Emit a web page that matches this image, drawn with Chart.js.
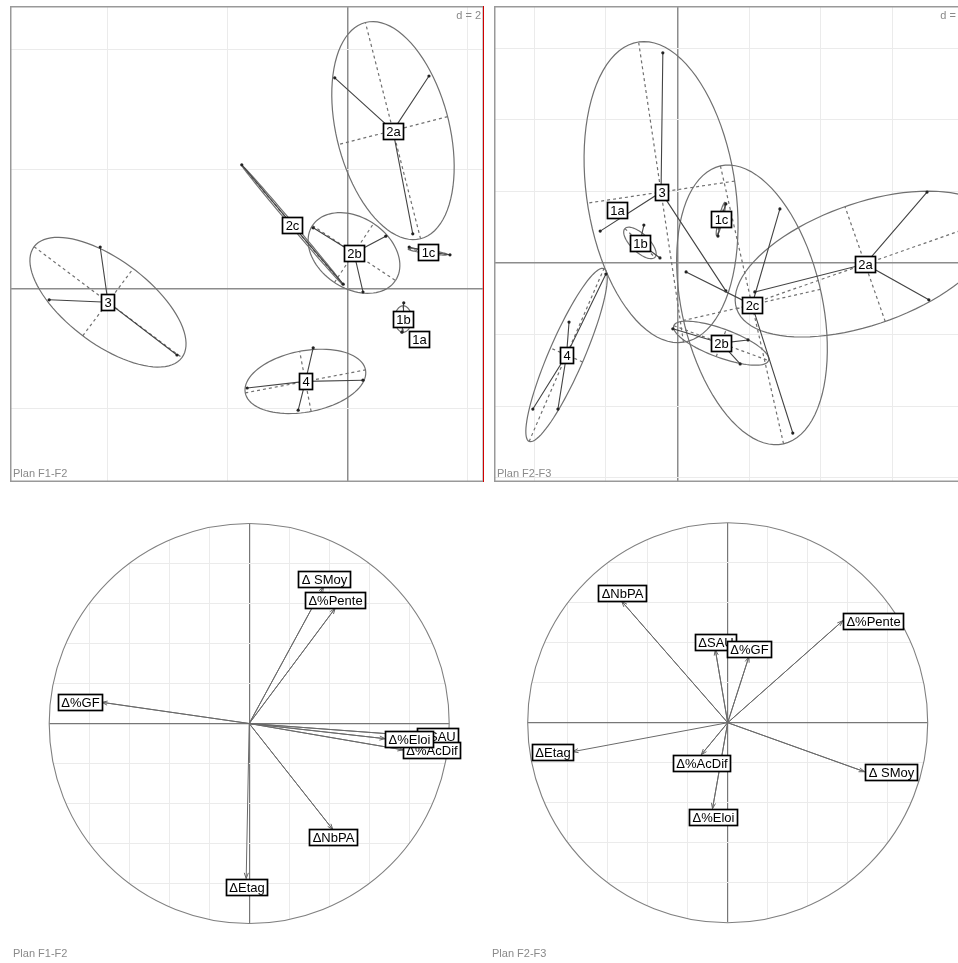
<!DOCTYPE html>
<html>
<head>
<meta charset="utf-8">
<script src="https://cdn.jsdelivr.net/npm/chart.js@4.4.1/dist/chart.umd.min.js"></script>
<style>
    html, body { margin: 0; padding: 0; background: #fff; overflow: hidden; width: 958px; height: 963px; }
    .panel { position: absolute; }
    .panel canvas { display: block; }
    .plan { position: absolute; font: 11px "Liberation Sans", Arial, sans-serif; color: #8a8a8a; }
</style>
</head>
<body>
<div class="panel" style="left:10px;top:6px"><canvas id="classF12" width="474" height="476"></canvas></div>
<div class="panel" style="left:494px;top:6px"><canvas id="classF23" width="474" height="476"></canvas></div>
<div class="panel" style="left:0px;top:500px"><canvas id="corF12" width="490" height="460"></canvas></div>
<div class="panel" style="left:490px;top:500px"><canvas id="corF23" width="468" height="460"></canvas></div>
<div class="plan" style="left:13px;top:947px">Plan F1-F2</div>
<div class="plan" style="left:492px;top:947px">Plan F2-F3</div>
<script>
const classNames = ['1a', '1b', '1c', '2a', '2b', '2c', '3', '4'];

// Plan F1-F2 (d = 2): class centres, individuals, ellipses [semi-axis 1, semi-axis 2, angle deg]
const f12Centers = [[1.18, -0.83], [0.92, -0.50], [1.33, 0.62], [0.75, 2.64], [0.10, 0.60], [-0.93, 1.07], [-4.00, -0.22], [-0.71, -1.54]];
const f12Points = [
    [],
    [[0.93, -0.23], [0.90, -0.72]],
    [[1.02, 0.70], [1.70, 0.57]],
    [[-0.22, 3.52], [1.35, 3.55], [1.08, 0.92]],
    [[-0.58, 1.02], [0.63, 0.88], [0.25, -0.05]],
    [[-1.77, 2.07], [-0.93, 1.05], [-0.08, 0.08]],
    [[-4.13, 0.70], [-4.98, -0.18], [-2.85, -1.10]],
    [[-0.58, -0.98], [-0.83, -2.02], [-1.68, -1.65], [0.25, -1.52]]
];
const f12Ellipses = [null, [0.22, 0.14, 90], [0.33, 0.03, -8], [1.86, 0.94, 104.3], [0.83, 0.59, -33.5], [1.30, 0.03, 130.3], [1.54, 0.70, -36.9], [1.02, 0.51, 10.8]];
const f12GridX = [-4, -2, 0, 2];
const f12GridY = [-2, 0, 2, 4];

// Plan F2-F3 (d = 1)
const f23Centers = [[-0.845, 0.74], [-0.525, 0.28], [0.605, 0.615], [2.62, -0.015], [0.61, -1.12], [1.04, -0.585], [-0.23, 0.99], [-1.55, -1.285]];
const f23Points = [
    [],
    [[-0.47, 0.53], [-0.245, 0.07]],
    [[0.675, 0.825], [0.565, 0.375]],
    [[3.485, 0.99], [3.51, -0.515], [1.08, -0.405]],
    [[-0.065, -0.92], [0.985, -1.075], [0.875, -1.41]],
    [[0.12, -0.125], [1.43, 0.755], [1.61, -2.375]],
    [[-0.205, 2.935], [-1.08, 0.445], [0.675, -0.39]],
    [[-1.0, -0.155], [-1.515, -0.825], [-2.02, -2.04], [-1.67, -2.04]]
];
const f23Ellipses = [null, [0.29, 0.125, -43.7], [0.24, 0.03, 76], [1.90, 0.85, 19.3], [0.705, 0.20, -20.2], [1.99, 0.98, 102.8], [2.12, 1.04, 98.5], [1.315, 0.245, 66.6]];
const f23GridX = [-2, -1, 0, 1, 2, 3, 4];
const f23GridY = [-3, -2, -1, 0, 1, 2, 3];

// Correlation circles
const varNames = ['Δ SMoy', 'Δ%Pente', 'ΔSAU', 'Δ%GF', 'Δ%AcDif', 'Δ%Eloi', 'ΔNbPA', 'ΔEtag'];
const loadF1 = [0.372, 0.43, 0.84, -0.737, 0.77, 0.68, 0.418, -0.015];
const loadF2 = [0.684, 0.576, -0.062, 0.106, -0.132, -0.076, -0.53, -0.775];
const loadF3 = [-0.245, 0.51, 0.365, 0.33, -0.16, -0.43, 0.607, -0.145];
const circleGrid = [-1, -0.8, -0.6, -0.4, -0.2, 0, 0.2, 0.4, 0.6, 0.8, 1];

const FONT = '13px "Liberation Sans", Arial, sans-serif';
const SMALL = '11px "Liberation Sans", Arial, sans-serif';

function gridScale(min, max, values, axisColor, axisWidth) {
    return {
        type: 'linear', min, max,
        afterBuildTicks: s => { s.ticks = values.map(v => ({ value: v })); },
        ticks: { display: false },
        border: { display: false },
        grid: {
            drawTicks: false,
            color: c => (c.tick && Math.abs(c.tick.value) < 1e-9) ? axisColor : '#ebebeb',
            lineWidth: c => (c.tick && Math.abs(c.tick.value) < 1e-9) ? axisWidth : 1
        }
    };
}

function drawTag(ctx, text, px, py, side) {
    ctx.font = FONT;
    const w = Math.round(ctx.measureText(text).width) + 6, h = 16;
    let left = px - w / 2, top = py - h / 2;
    if (side === 'r') left = px;
    if (side === 'l') left = px - w;
    if (side === 't') top = py - h;
    if (side === 'b') top = py;
    left = Math.round(left); top = Math.round(top);
    ctx.fillStyle = '#fff';
    ctx.fillRect(left, top, w, h);
    ctx.strokeStyle = '#000';
    ctx.lineWidth = 1.7;
    ctx.strokeRect(left + 0.5, top + 0.5, w, h);
    ctx.fillStyle = '#000';
    ctx.textAlign = 'center';
    ctx.textBaseline = 'middle';
    ctx.fillText(text, left + w / 2 + 0.5, top + h / 2 + 1);
}

function classChart(id, centers, points, ellipses, xr, yr, gx, gy, dText, plan, redEdge) {
    const datasets = classNames.map((name, i) => {
        const data = [];
        points[i].forEach(p => {
            data.push({ x: centers[i][0], y: centers[i][1] });
            data.push({ x: p[0], y: p[1] });
        });
        return {
            label: name, data, showLine: true,
            borderColor: '#444', borderWidth: 1.1,
            pointRadius: c => c.dataIndex % 2 ? 1.6 : 0,
            pointBackgroundColor: '#222', pointBorderWidth: 0
        };
    });

    const decor = {
        id: 'decor' + id,
        beforeDatasetsDraw(chart) {
            const { ctx, chartArea: a } = chart;
            const { x, y } = chart.scales;
            ctx.save();
            ctx.beginPath();
            ctx.rect(a.left, a.top, a.right - a.left, a.bottom - a.top);
            ctx.clip();
            ctx.strokeStyle = '#707070';
            ctx.lineWidth = 1.2;
            ellipses.forEach((e, i) => {
                if (!e) return;
                const c = centers[i];
                const t = e[2] * Math.PI / 180;
                const ux = Math.cos(t), uy = Math.sin(t);
                ctx.setLineDash([]);
                ctx.beginPath();
                for (let k = 0; k <= 90; k++) {
                    const s = k / 90 * 2 * Math.PI;
                    const dx = e[0] * Math.cos(s) * ux - e[1] * Math.sin(s) * uy;
                    const dy = e[0] * Math.cos(s) * uy + e[1] * Math.sin(s) * ux;
                    const px = x.getPixelForValue(c[0] + dx), py = y.getPixelForValue(c[1] + dy);
                    if (k) ctx.lineTo(px, py); else ctx.moveTo(px, py);
                }
                ctx.stroke();
                // ellipse axes, dashed
                ctx.setLineDash([3, 3]);
                ctx.beginPath();
                ctx.moveTo(x.getPixelForValue(c[0] - e[0] * ux), y.getPixelForValue(c[1] - e[0] * uy));
                ctx.lineTo(x.getPixelForValue(c[0] + e[0] * ux), y.getPixelForValue(c[1] + e[0] * uy));
                ctx.moveTo(x.getPixelForValue(c[0] + e[1] * uy), y.getPixelForValue(c[1] - e[1] * ux));
                ctx.lineTo(x.getPixelForValue(c[0] - e[1] * uy), y.getPixelForValue(c[1] + e[1] * ux));
                ctx.stroke();
            });
            ctx.restore();
        },
        afterDatasetsDraw(chart) {
            const { ctx, chartArea: a } = chart;
            const { x, y } = chart.scales;
            ctx.save();
            ctx.beginPath();
            ctx.rect(a.left, a.top, a.right - a.left, a.bottom - a.top);
            ctx.clip();
            classNames.forEach((name, i) => {
                drawTag(ctx, name, x.getPixelForValue(centers[i][0]), y.getPixelForValue(centers[i][1]), 'c');
            });
            ctx.restore();

            ctx.save();
            ctx.strokeStyle = '#999';
            ctx.lineWidth = 1.5;
            ctx.strokeRect(a.left + 0.75, a.top + 0.75, a.right - a.left - 1.5, a.bottom - a.top - 1.5);
            if (redEdge) {
                ctx.strokeStyle = '#d00000';
                ctx.lineWidth = 1;
                ctx.beginPath();
                ctx.moveTo(a.right - 0.5, a.top);
                ctx.lineTo(a.right - 0.5, a.bottom);
                ctx.stroke();
            }
            ctx.font = SMALL;
            ctx.fillStyle = '#8a8a8a';
            ctx.textBaseline = 'alphabetic';
            ctx.textAlign = 'right';
            ctx.fillText(dText, a.right - 3, a.top + 13);
            ctx.textAlign = 'left';
            ctx.fillText(plan, a.left + 3, a.bottom - 5);
            ctx.restore();
        }
    };

    return new Chart(document.getElementById(id), {
        type: 'scatter',
        data: { datasets },
        options: {
            responsive: false, animation: false, events: [],
            layout: { padding: 0, autoPadding: false },
            plugins: { legend: { display: false }, tooltip: { enabled: false } },
            scales: {
                x: gridScale(xr[0], xr[1], gx, '#8c8c8c', 1.5),
                y: gridScale(yr[0], yr[1], gy, '#8c8c8c', 1.5)
            }
        },
        plugins: [decor]
    });
}

function circleChart(id, xs, ys, xr, yr) {
    const data = [];
    varNames.forEach((n, i) => {
        data.push({ x: 0, y: 0 });
        data.push({ x: xs[i], y: ys[i] });
    });

    const decor = {
        id: 'decor' + id,
        beforeDatasetsDraw(chart) {
            const { ctx, width, height } = chart;
            const { x, y } = chart.scales;
            const cx = x.getPixelForValue(0), cy = y.getPixelForValue(0);
            const r = x.getPixelForValue(1) - cx;
            ctx.save();
            // keep the grid inside the circle
            ctx.beginPath();
            ctx.rect(0, 0, width, height);
            ctx.arc(cx, cy, r, 0, 2 * Math.PI, true);
            ctx.fillStyle = '#fff';
            ctx.fill('evenodd');
            ctx.beginPath();
            ctx.arc(cx, cy, r, 0, 2 * Math.PI);
            ctx.strokeStyle = '#808080';
            ctx.lineWidth = 1.1;
            ctx.stroke();
            ctx.restore();
        },
        afterDatasetsDraw(chart) {
            const { ctx } = chart;
            const { x, y } = chart.scales;
            const cx = x.getPixelForValue(0), cy = y.getPixelForValue(0);
            ctx.save();
            ctx.strokeStyle = '#666';
            ctx.lineWidth = 1;
            varNames.forEach((n, i) => {
                const px = x.getPixelForValue(xs[i]), py = y.getPixelForValue(ys[i]);
                const ang = Math.atan2(py - cy, px - cx);
                ctx.beginPath();
                ctx.moveTo(px - 6 * Math.cos(ang - 0.35), py - 6 * Math.sin(ang - 0.35));
                ctx.lineTo(px, py);
                ctx.lineTo(px - 6 * Math.cos(ang + 0.35), py - 6 * Math.sin(ang + 0.35));
                ctx.stroke();
            });
            varNames.forEach((n, i) => {
                const px = x.getPixelForValue(xs[i]), py = y.getPixelForValue(ys[i]);
                const dx = px - cx, dy = py - cy;
                let side;
                if (Math.abs(dx) > Math.abs(dy)) side = dx > 0 ? 'r' : 'l';
                else side = dy < 0 ? 't' : 'b';
                drawTag(ctx, n, px, py, side);
            });
            ctx.restore();
        }
    };

    return new Chart(document.getElementById(id), {
        type: 'scatter',
        data: {
            datasets: [{
                data, showLine: true,
                borderColor: '#6a6a6a', borderWidth: 1, pointRadius: 0
            }]
        },
        options: {
            responsive: false, animation: false, events: [],
            layout: { padding: 0, autoPadding: false },
            plugins: { legend: { display: false }, tooltip: { enabled: false } },
            scales: {
                x: gridScale(xr[0], xr[1], circleGrid, '#777', 1.2),
                y: gridScale(yr[0], yr[1], circleGrid, '#777', 1.2)
            }
        },
        plugins: [decor]
    });
}

classChart('classF12', f12Centers, f12Points, f12Ellipses, [-5.633, 2.267], [-3.217, 4.717], f12GridX, f12GridY, 'd = 2', 'Plan F1-F2', true);
classChart('classF23', f23Centers, f23Points, f23Ellipses, [-2.563, 4.057], [-3.059, 3.589], f23GridX, f23GridY, 'd = 1', 'Plan F2-F3', false);
circleChart('corF12', loadF1, loadF2, [-1.246, 1.204], [-1.1825, 1.1175]);
circleChart('corF23', loadF2, loadF3, [-1.1885, 1.1515], [-1.1865, 1.1135]);
</script>
</body>
</html>
